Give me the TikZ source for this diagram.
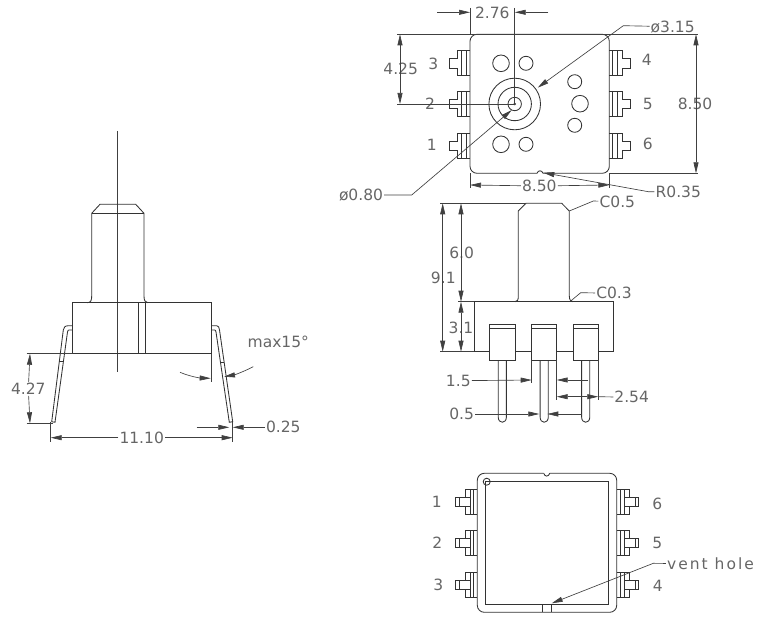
\documentclass[tikz,border=0pt]{standalone}
\usepackage{fontspec}
\setmainfont{DejaVu Sans}
\newfontfamily\ventfont[LetterSpace=13]{DejaVu Sans}
\usetikzlibrary{arrows.meta}
\tikzstyle{part} = [line width=0.85pt, draw=black!80]
\tikzstyle{thinline} = [line width=0.65pt, draw=black!75]
\tikzstyle{arrow} = [thinline, -{Triangle[length=11pt,width=5pt]}]
\tikzstyle{dimline} = [thinline, {Triangle[length=11pt,width=5pt]}-{Triangle[length=11pt,width=5pt]}]
\tikzstyle{dimtext} = [inner sep=1pt, text=black!60, font=\fontsize{15.5}{18}\selectfont]

\begin{document}
\begin{tikzpicture}[x=1pt, y=-1pt]
\useasboundingbox (0,0) rectangle (775,617);

% Left view: stem and body
\draw [thinline] (117.7,131) -- (117.7,371.7);
\draw [part] (87.3,302.7) .. controls (91,302.7) and (91.7,300) .. (91.7,296) -- (91.7,213.3) -- (100,204.3) -- (135.7,204.3) -- (144,213.3) -- (144,296) .. controls (144,300) and (145,302.7) .. (147.7,302.7);
\draw [part] (91.7,213.3) -- (144,213.3);
\draw [part] (72.7,302.7) rectangle (211.7,353.7);
\draw [part] (138.3,302.7) -- (138.3,353.7) (145,302.7) -- (145,353.7);

% Left view: leads
\draw [part] (72.7,325.7) -- (68.3,325.7) .. controls (65,325.7) and (63.6,327.5) .. (63.3,330) -- (51.7,421.7) -- (55,422.3) -- (67.5,332) .. controls (67.8,330.5) and (68.3,330) .. (69,330) -- (72.7,330);
\draw [part] (59.3,361.7) -- (63.4,361.7);
\draw [part] (211.7,325.7) -- (216.7,325.7) .. controls (218.5,325.7) and (219.3,327.5) .. (219.5,330) -- (232.7,421.7) -- (229.3,422.3) -- (216,332) .. controls (215.8,330.5) and (215.3,330) .. (214.5,330) -- (211.7,330);
\draw [part] (220.4,362) -- (224.1,362);

% Left view: dimensions
\coordinate (h427top) at (30,353.7);
\coordinate (h427bot) at (30,423.3);
\coordinate (w1110l) at (50.7,437.7);
\coordinate (w1110r) at (232.7,437.7);
\coordinate (t025l) at (196.7,427.3);
\coordinate (t025a) at (229.3,427.3);
\coordinate (t025b) at (232.7,427.3);
\coordinate (angLs) at (180,372.3);
\coordinate (angLe) at (210.7,378.3);
\coordinate (angRs) at (253.3,366.7);
\coordinate (angRe) at (224,376.7);
\node (h427) [dimtext] at (28.3,389) {4.27};
\node (w1110) [dimtext] at (141.7,437.7) {11.10};
\node (t025) [dimtext] at (283.3,427.3) {0.25};
\node (max15) [dimtext] at (278.3,341.7) {max15°};
\draw [thinline] (26.7,353.7) -- (72.7,353.7);
\draw [thinline] (26.7,423.3) -- (53,423.3);
\draw [thinline] (211.7,353.7) -- (211.7,381.7);
\draw [thinline] (50.7,422) -- (50.7,441.7);
\draw [thinline] (232.7,422) -- (232.7,441.7);
\draw [arrow] (h427) -- (h427top);
\draw [arrow] (h427) -- (h427bot);
\draw [arrow] (w1110) -- (w1110l);
\draw [arrow] (w1110) -- (w1110r);
\draw [arrow] (t025l) -- (t025a);
\draw [arrow] (t025) -- (t025b);
\draw [arrow] (angLs) .. controls (190,376.5) and (200,378) .. (angLe);
\draw [arrow] (angRs) .. controls (243,372) and (234,375) .. (angRe);

% Top view: outline and holes
\draw [part, rounded corners=7pt] (537,173.3) -- (470,173.3) -- (470,34.3) -- (609.3,34.3) -- (609.3,173.3) -- (543,173.3);
\draw [part] (537,173.3) .. controls (538,170) and (542,170) .. (543,173.3);
\draw [part] (514.7,104) circle [radius=25.8];
\draw [part] (514.7,104) circle [radius=16.7];
\draw [part] (514.7,104) circle [radius=6.7];
\fill [black!80] (514.7,104) circle [radius=1.4];
\foreach \hx/\hy/\hr in {501/63.3/8.3, 526/63.3/7, 501/144.3/8.3, 526/144.3/7, 574.7/81.7/7, 580/103.7/8.3, 574.7/125.3/7}
  \draw [part] (\hx,\hy) circle [radius=\hr];

% Top view: pins
\foreach \px/\dir in {470/1, 609.3/-1}
  \foreach \py in {63.3, 103.7, 145.7} {
    \begin{scope}[shift={(\px,\py)}, xscale=\dir]
      \draw [part] (0,-12.5) -- (-12.7,-12.5) -- (-12.7,-4.7) -- (-21,-4.7) -- (-21,4.7) -- (-12.7,4.7) -- (-12.7,12.5) -- (0,12.5);
      \draw [part] (-8.3,-12.5) -- (-8.3,12.5) (-3.3,-12.5) -- (-3.3,12.5);
    \end{scope}
  }

% Top view: pin numbers
\node (t3) [dimtext] at (433.3,64) {3};
\node (t2) [dimtext] at (430,104) {2};
\node (t1) [dimtext] at (431.7,145) {1};
\node (t4) [dimtext] at (646.7,60) {4};
\node (t5) [dimtext] at (647.7,104) {5};
\node (t6) [dimtext] at (647.7,144.3) {6};

% Top view: dimensions
\coordinate (w276l) at (470,12.3);
\coordinate (w276r) at (514.7,12.3);
\coordinate (s276l) at (437.3,12.3);
\coordinate (s276r) at (548.3,12.3);
\coordinate (h425a) at (400,34.3);
\coordinate (h425b) at (400,104);
\coordinate (h850a) at (696,34.3);
\coordinate (h850b) at (696,173.3);
\coordinate (w850l) at (470,185);
\coordinate (w850r) at (609.3,185);
\coordinate (d315) at (537.7,87.7);
\coordinate (d080) at (511.7,110);
\coordinate (r035) at (543.3,172.7);
\node (w276) [dimtext] at (492.3,13.3) {2.76};
\node (h425) [dimtext] at (400.7,69.3) {4.25};
\node (h850) [dimtext] at (695,104) {8.50};
\node (w850) [dimtext] at (539.3,186) {8.50};
\node (l315) [dimtext] at (672.7,26.7) {ø3.15};
\node (l080) [dimtext] at (361,195) {ø0.80};
\node (l035) [dimtext] at (678.3,192.3) {R0.35};
\draw [thinline] (397.3,34.3) -- (698.3,34.3);
\draw [thinline] (609.3,173.3) -- (698.3,173.3);
\draw [thinline] (397.3,104) -- (514.7,104);
\draw [thinline] (470,8) -- (470,34.3);
\draw [thinline] (470,173.3) -- (470,188.5);
\draw [thinline] (609.3,173.3) -- (609.3,188.5);
\draw [thinline] (514.7,8) -- (514.7,104);
\draw [arrow] (s276l) -- (w276l);
\draw [arrow] (s276r) -- (w276r);
\draw [dimline] (h425a) -- (h425b);
\draw [dimline] (h850a) -- (h850b);
\draw [arrow] (w850) -- (w850l);
\draw [arrow] (w850) -- (w850r);
\draw [arrow] (l315) -- (623.3,25.7) -- (d315);
\draw [arrow] (l080) -- (411.7,195) -- (d080);
\draw [arrow] (l035) -- (648.3,191.7) -- (r035);

% Side view: stem and body
\draw [part] (515,301.7) .. controls (517.5,301.7) and (518.3,300) .. (518.3,296) -- (518.3,211) -- (526,203.3) -- (561.7,203.3) -- (569.3,211) -- (569.3,296) .. controls (569.3,300) and (571,301.7) .. (573,301.7);
\draw [part] (474.3,301.7) rectangle (613.3,351.7);

% Side view: pins
\foreach \px in {502.3, 544.2, 585.7} {
  \begin{scope}[shift={(\px,0)}]
    \draw [part, fill=white] (-12.7,324.3) rectangle (12.7,360);
    \draw [part] (-12.7,328.3) -- (12.7,328.3);
    \draw [part] (-4.1,360) -- (-4.1,417) .. controls (-4.1,424) and (4.1,424) .. (4.1,417) -- (4.1,360);
  \end{scope}
}

% Side view: dimensions
\coordinate (h91a) at (442.7,203.3);
\coordinate (h91b) at (442.7,351.7);
\coordinate (h60a) at (461,203.3);
\coordinate (h60b) at (461,301.7);
\coordinate (h31b) at (461,351.7);
\coordinate (w15l) at (531.7,380);
\coordinate (w15r) at (556.7,380);
\coordinate (w15s) at (588.3,380);
\coordinate (w254l) at (556.7,396.7);
\coordinate (w254r) at (598.3,396.7);
\coordinate (w05l) at (539.3,414);
\coordinate (w05r) at (547.3,414);
\coordinate (w05s) at (581.7,414);
\coordinate (c05) at (569.3,211);
\coordinate (c03) at (570.7,301);
\node (h91) [dimtext] at (443.3,277.7) {9.1};
\node (h60) [dimtext] at (461.7,253.3) {6.0};
\node (h31) [dimtext] at (461,328) {3.1};
\node (w15) [dimtext] at (458.3,380.7) {1.5};
\node (w254) [dimtext] at (631.7,397.3) {2.54};
\node (w05) [dimtext] at (461.7,414) {0.5};
\node (l05) [dimtext] at (617.3,201.7) {C0.5};
\node (l03) [dimtext] at (614,293.3) {C0.3};
\draw [thinline] (440,203.3) -- (526,203.3);
\draw [thinline] (458.3,301.7) -- (474.3,301.7);
\draw [thinline] (440,351.7) -- (474.3,351.7);
\draw [thinline] (531.7,360) -- (531.7,383);
\draw [thinline] (556.7,360) -- (556.7,400);
\draw [thinline] (598.3,360) -- (598.3,400);
\draw [dimline] (h91a) -- (h91b);
\draw [dimline] (h60a) -- (h60b);
\draw [dimline] (h60b) -- (h31b);
\draw [arrow] (w15) -- (w15l);
\draw [arrow] (w15s) -- (w15r);
\draw [dimline] (w254l) -- (w254r);
\draw [thinline] (w254r) -- (w254);
\draw [arrow] (w05) -- (w05l);
\draw [arrow] (w05s) -- (w05r);
\draw [thinline] (l05) -- (593.3,201) -- (c05);
\draw [thinline] (l03) -- (580.7,292.7) -- (c03);

% Bottom view: outline
\draw [part, rounded corners=7pt] (543.7,473.3) -- (477.3,473.3) -- (477.3,612.3) -- (616.7,612.3) -- (616.7,473.3) -- (549.7,473.3);
\draw [part] (543.7,473.3) .. controls (544.7,477) and (548.7,477) .. (549.7,473.3);
\draw [part] (485.7,481.7) rectangle (608.3,604.3);
\draw [part] (486.7,481.7) circle [radius=3.5];
\draw [part] (542.7,604.3) -- (542.7,612.3) (551,604.3) -- (551,612.3);

% Bottom view: pins
\foreach \px/\dir in {477.3/1, 616.7/-1}
  \foreach \py in {501.7, 543.3, 585} {
    \begin{scope}[shift={(\px,\py)}, xscale=\dir]
      \draw [part] (0,-12.5) -- (-12.3,-12.5) -- (-12.3,-4.5) -- (-21.6,-4.5) -- (-21.6,4.5) -- (-12.3,4.5) -- (-12.3,12.5) -- (0,12.5);
      \draw [part] (-7.3,-12.5) -- (-7.3,12.5) (-4,-12.5) -- (-4,12.5);
      \draw [part] (-12.3,-4.5) -- (-7.3,-4.5) (-12.3,4.5) -- (-7.3,4.5) (-18.3,-4.5) -- (-18.3,4.5);
    \end{scope}
  }

% Bottom view: labels
\node (b1) [dimtext] at (436.7,501.7) {1};
\node (b2) [dimtext] at (437.3,542.7) {2};
\node (b3) [dimtext] at (438.3,585) {3};
\node (b6) [dimtext] at (657.3,504) {6};
\node (b5) [dimtext] at (657.3,543.3) {5};
\node (b4) [dimtext] at (657.7,586) {4};
\coordinate (vent) at (551.7,603.3);
\node (venthole) [dimtext, font=\fontsize{15.5}{18}\ventfont] at (710.5,564) {vent hole};
\draw [arrow] (venthole) -- (653.3,563.3) -- (vent);

\end{tikzpicture}
\end{document}
